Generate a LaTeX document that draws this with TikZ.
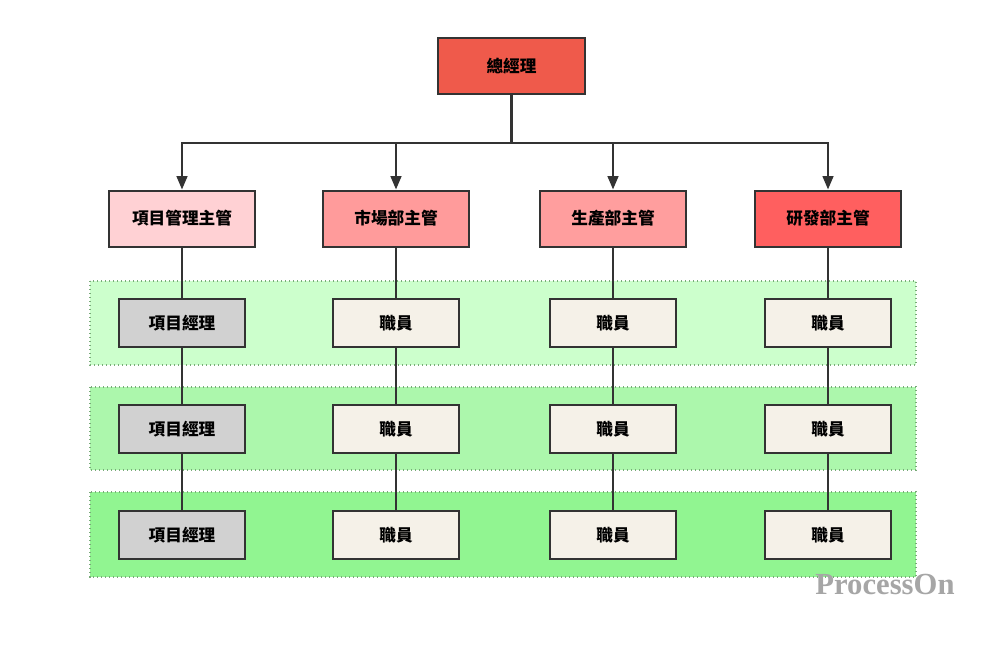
\documentclass[tikz,border=0pt]{standalone}
\usepackage{fontspec}
\setmainfont{Noto Sans CJK TC}
\newfontfamily\logofont{Liberation Serif}
\usetikzlibrary{arrows.meta}

\definecolor{gmred}{RGB}{239,90,75}
\definecolor{mgrpink}{RGB}{255,209,212}
\definecolor{mgrrose}{RGB}{255,155,155}
\definecolor{mgrsalmon}{RGB}{255,158,158}
\definecolor{mgrred}{RGB}{255,95,95}
\definecolor{pmgray}{RGB}{209,209,209}
\definecolor{staffbeige}{RGB}{245,241,232}
\definecolor{bandone}{RGB}{204,255,204}
\definecolor{bandtwo}{RGB}{172,247,172}
\definecolor{bandthree}{RGB}{145,245,145}
\definecolor{bandedge}{RGB}{120,170,120}
\definecolor{linegray}{RGB}{51,51,51}

\tikzset{every picture/.style={line width=0.75pt}}
\tikzset{
  box/.style={draw=linegray, line width=1.5pt, font=\fontsize{12.5}{14}\selectfont\bfseries, inner sep=0pt},
  topbox/.style={box, minimum width=110pt, minimum height=42pt},
  staffbox/.style={box, fill=staffbeige, minimum width=94.5pt, minimum height=36pt},
  band/.style={draw=bandedge, line width=1pt, dotted},
  link/.style={draw=linegray, line width=1.6pt},
  arrowlink/.style={link, -{Triangle[length=10pt,width=8pt]}},
  colline/.style={draw=linegray, line width=1.2pt}
}

\begin{document}
\begin{tikzpicture}[x=0.75pt,y=0.75pt,yscale=-1,xscale=1]
\useasboundingbox (0,0) rectangle (1000,644);

%Bands
\draw [band, fill=bandone] (90,281) rectangle (916,365);
\draw [band, fill=bandtwo] (90,387) rectangle (916,470);
\draw [band, fill=bandthree] (90,492) rectangle (916,577);

%General manager
\node [topbox, fill=gmred] (gm) at (511.5,66) {總經理};

%Department heads
\node [topbox, fill=mgrpink] (pmhead) at (182,218.5) {項目管理主管};
\node [topbox, fill=mgrrose] (mkhead) at (396,218.5) {市場部主管};
\node [topbox, fill=mgrsalmon] (prhead) at (613,218.5) {生產部主管};
\node [topbox, fill=mgrred] (rdhead) at (828,218.5) {研發部主管};

%Project managers
\node [staffbox, fill=pmgray] (pm1) at (182,323) {項目經理};
\node [staffbox, fill=pmgray] (pm2) at (182,429) {項目經理};
\node [staffbox, fill=pmgray] (pm3) at (182,535) {項目經理};

%Staff
\node [staffbox] (mk1) at (396,323) {職員};
\node [staffbox] (mk2) at (396,429) {職員};
\node [staffbox] (mk3) at (396,535) {職員};
\node [staffbox] (pr1) at (613,323) {職員};
\node [staffbox] (pr2) at (613,429) {職員};
\node [staffbox] (pr3) at (613,535) {職員};
\node [staffbox] (rd1) at (828,323) {職員};
\node [staffbox] (rd2) at (828,429) {職員};
\node [staffbox] (rd3) at (828,535) {職員};

%Connectors
\coordinate (bus) at (511.5,143);
\draw [link] (gm.south) -- (bus);
\draw [arrowlink] (bus) -| (pmhead.north);
\draw [arrowlink] (bus) -| (mkhead.north);
\draw [arrowlink] (bus) -| (prhead.north);
\draw [arrowlink] (bus) -| (rdhead.north);

\foreach \col in {pm,mk,pr,rd} {
  \draw [colline] (\col head.south) -- (\col1.north);
  \draw [colline] (\col1.south) -- (\col2.north);
  \draw [colline] (\col2.south) -- (\col3.north);
}

% Text Node
\node [text=black!35, font=\logofont\bfseries\fontsize{23}{25}\selectfont] (logo) at (885,584) {ProcessOn};

\end{tikzpicture}
\end{document}
